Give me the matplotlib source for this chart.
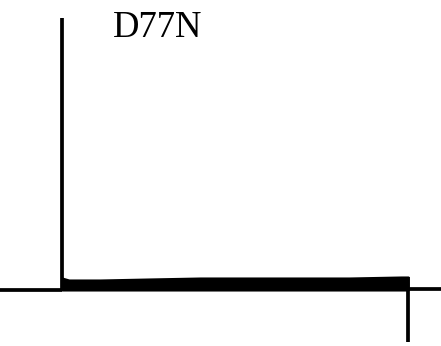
import numpy as np
import matplotlib.pyplot as plt

# current trace, time in ms, current in arbitrary units
t_pulse_on = 0.0
t_pulse_off = 100.0
t_start = -17.9
t_end = 109.5

i_on_peak = 27.2
i_off_peak = -5.2

# envelope of the noisy sustained current during the pulse
band_t = [0, 2, 11, 25, 40, 54, 69, 83, 98, 100]
band_hi = [1.15, 0.95, 0.95, 1.05, 1.15, 1.15, 1.15, 1.15, 1.25, 1.25]
band_lo = [-0.05, -0.05, -0.05, -0.05, -0.05, -0.05, -0.05, -0.05, -0.05, -0.05]

label = "D77N"

fig = plt.figure(figsize=(4.41, 3.46), dpi=100)
ax = fig.add_axes([0, 0, 1, 1])

lw = 2.7
# baseline before pulse
ax.plot([t_start, t_pulse_on], [0, 0], color="black", lw=lw, solid_capstyle="butt")
# onset transient
ax.plot([t_pulse_on, t_pulse_on], [0, i_on_peak], color="black", lw=lw, solid_capstyle="butt")
# sustained current
ax.fill_between(band_t, band_lo, band_hi, color="black", lw=1.5, edgecolor="black")
# tail transient
ax.plot([t_pulse_off, t_pulse_off], [band_hi[-1], i_off_peak], color="black", lw=lw,
        solid_capstyle="butt")
# baseline after pulse
ax.plot([t_pulse_off, t_end], [0.05, 0.05], color="black", lw=lw, solid_capstyle="butt")

ax.text(14.7, 25.25, label, family=["Liberation Serif", "DejaVu Serif"], fontsize=26.5,
        va="baseline", ha="left")

ax.set_xlim(t_start, t_end)
ax.set_ylim(-5.65, 28.95)
ax.axis("off")

fig.savefig("out.png", dpi=100)
